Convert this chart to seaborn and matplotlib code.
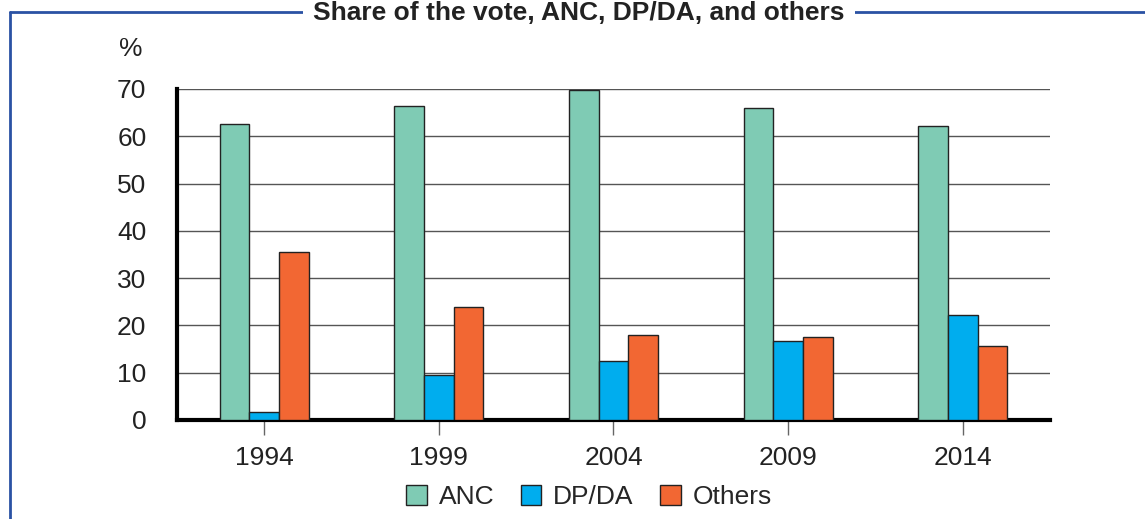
import pandas as pd
import matplotlib.pyplot as plt
import seaborn as sns
from matplotlib.lines import Line2D
from matplotlib.patches import Patch

# Data
years = ['1994', '1999', '2004', '2009', '2014']
anc = [62.6, 66.4, 69.7, 65.9, 62.2]
dpda = [1.7, 9.6, 12.4, 16.7, 22.2]
others = [35.5, 23.9, 18.0, 17.5, 15.6]
parties = ['ANC', 'DP/DA', 'Others']
colors = ['#7fcbb4', '#00adee', '#f26733']

df = pd.DataFrame({'Year': years, 'ANC': anc, 'DP/DA': dpda, 'Others': others})
df = df.melt(id_vars='Year', var_name='Party', value_name='Share')

sns.set_style('white')
plt.rcParams['font.family'] = ['Liberation Sans', 'DejaVu Sans']

fig = plt.figure(figsize=(11.45, 5.19), dpi=100)
ax = fig.add_axes([0.1546, 0.1908, 0.7624, 0.6378])

sns.barplot(data=df, x='Year', y='Share', hue='Party', hue_order=parties,
            palette=colors, width=0.51, edgecolor='#222222', linewidth=1,
            saturation=1, legend=False, ax=ax, zorder=3)

ax.set_xlim(-0.5, 4.5)
ax.set_ylim(0, 70)
ax.set_yticks(range(0, 71, 10))
ax.grid(axis='y', color='#555555', linewidth=1, zorder=0)
ax.grid(axis='x', visible=False)
ax.set_xlabel('')
ax.set_ylabel('')

for s in ['top', 'right']:
    ax.spines[s].set_visible(False)
ax.spines['left'].set_linewidth(3)
ax.spines['bottom'].set_linewidth(3)
ax.spines['left'].set_color('black')
ax.spines['bottom'].set_color('black')

fs = 19
ax.tick_params(axis='y', length=0, pad=22, labelsize=fs, labelcolor='#222222')
ax.tick_params(axis='x', length=11, width=1, color='#666666', pad=8,
               labelsize=fs, labelcolor='#222222', direction='out', bottom=True)

ax.text(-0.039, 1.12, '%', transform=ax.transAxes, ha='right', va='center',
        fontsize=fs, color='#222222')

# Blue frame with title
fcol = '#2a52a4'
fig.add_artist(Line2D([10 / 1145, 10 / 1145], [1 - 12 / 519, 0], color=fcol, lw=2))
fig.add_artist(Line2D([10 / 1145, 1], [1 - 12 / 519, 1 - 12 / 519], color=fcol, lw=2))
fig.text(579 / 1145, 1 - 13 / 519, 'Share of the vote, ANC, DP/DA, and others',
         ha='center', va='center', fontsize=19, fontweight='bold', color='#222222',
         bbox=dict(facecolor='white', edgecolor='none', pad=7))

handles = [Patch(facecolor=c, edgecolor='#222222', linewidth=1) for c in colors]
fig.legend(handles, parties, loc='center', bbox_to_anchor=(589 / 1145, 1 - 497 / 519),
           ncol=3, frameon=False, fontsize=fs, handlelength=0.78, handleheight=0.78,
           handletextpad=0.45, columnspacing=1.0)

fig.savefig('out.png', dpi=100)
